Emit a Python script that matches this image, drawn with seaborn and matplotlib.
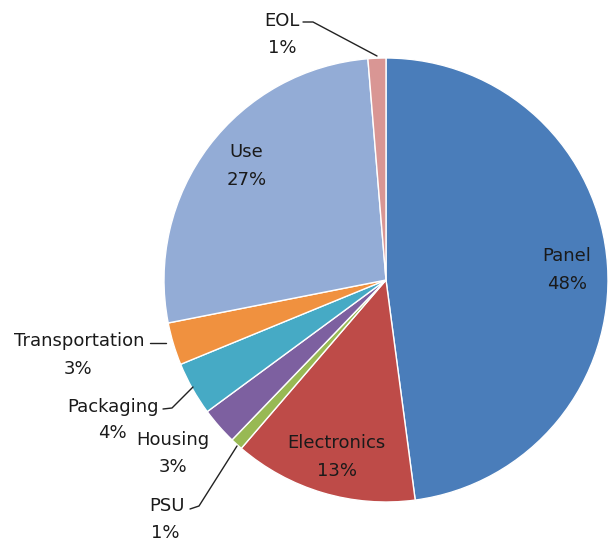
import matplotlib
matplotlib.use("Agg")
import matplotlib.pyplot as plt
import seaborn as sns

categories = ["Panel", "Electronics", "PSU", "Housing", "Packaging", "Transportation", "Use", "EOL"]
values = [47.9, 13.4, 0.9, 2.7, 3.9, 3.1, 26.8, 1.3]
pct_labels = ["48%", "13%", "1%", "3%", "4%", "3%", "27%", "1%"]
colors = ["#4A7DBA", "#BE4B48", "#98B954", "#7D60A0", "#46AAC5", "#F0913F", "#93ACD6", "#D99694"]

sns.set_theme(style="white")
plt.rcParams['font.family'] = ['DejaVu Sans']

W, H = 613, 544
fig = plt.figure(figsize=(W / 100, H / 100), dpi=100)
ax = fig.add_axes([0, 0, 1, 1])

cx, cy, r = 386, H - 280, 222
ax.pie(values, colors=colors, startangle=90, counterclock=False,
       center=(cx, cy), radius=r, frame=True,
       wedgeprops=dict(edgecolor="white", linewidth=1.0))
ax.set_xlim(0, W)
ax.set_ylim(0, H)
ax.set_aspect("equal")
ax.axis("off")

def Y(y):
    return H - y

fs = 13
tc = "#1a1a1a"
label_pos = {
    "Panel": ((567, 256), (567, 284)),
    "Electronics": ((336, 443), (337, 471)),
    "PSU": ((167, 506), (165, 533)),
    "Housing": ((173, 440), (173, 467)),
    "Packaging": ((113, 407), (112, 433)),
    "Transportation": ((79, 341), (78, 369)),
    "Use": ((246, 152), (247, 180)),
    "EOL": ((282, 21), (282, 48)),
}
for cat, pct in zip(categories, pct_labels):
    (x1, y1), (x2, y2) = label_pos[cat]
    ax.text(x1, Y(y1), cat, ha="center", va="center", fontsize=fs, color=tc)
    ax.text(x2, Y(y2), pct, ha="center", va="center", fontsize=fs, color=tc)

leaders = [
    [(303, 22), (313, 22), (377, 56)],
    [(150, 343), (166, 343)],
    [(163, 409), (172, 408), (193, 387)],
    [(190, 509), (199, 506), (237, 446)],
]
for pts in leaders:
    xs = [p[0] for p in pts]
    ys = [Y(p[1]) for p in pts]
    ax.plot(xs, ys, color="#222222", linewidth=1.0)

fig.savefig("out.png", dpi=100, facecolor="white")
